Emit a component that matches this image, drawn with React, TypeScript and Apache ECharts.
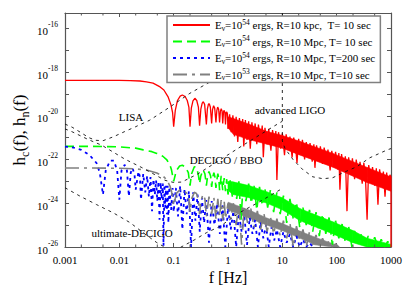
import React, { useEffect, useRef } from 'react';
import * as echarts from 'echarts';

const FONT = "'Liberation Serif', 'DejaVu Serif', serif";

// axis ranges, in log10 units (axes are drawn in log10 space)
const X_MIN = -3; // 0.001 Hz
const X_MAX = 3; // 1000 Hz
const Y_MIN = -26; // 1e-26
const Y_MAX = -15.3; // 5e-16
const xMinorTicks = [0.002, 0.005, 0.02, 0.05, 0.2, 0.5, 2, 5, 20, 50, 200, 500];

// legend entries
const seriesNames = [
  'Eν=10^54 ergs, R=10 kpc,  T= 10 sec',
  'Eν=10^54 ergs, R=10 Mpc, T= 10 sec',
  'Eν=10^54 ergs, R=10 Mpc, T=200 sec',
  'Eν=10^53 ergs, R=10 Mpc, T=10 sec',
];
const legendRich = [
  '{n|E}{sub|ν}{n|=10}{sup|54}{n| ergs, R=10 kpc,  T= 10 sec}',
  '{n|E}{sub|ν}{n|=10}{sup|54}{n| ergs, R=10 Mpc, T= 10 sec}',
  '{n|E}{sub|ν}{n|=10}{sup|54}{n| ergs, R=10 Mpc, T=200 sec}',
  '{n|E}{sub|ν}{n|=10}{sup|53}{n| ergs, R=10 Mpc, T=10 sec}',
];
const yAxisTitle = '{n|h}{sub|c}{n|(f), h}{sub|n}{n|(f)}';
const xAxisTitle = 'f [Hz]';

// signal curves: [log10 f, log10 h]
const redLog = [
  [-3, -18.38], [-2.5, -18.38], [-2, -18.38], [-1.8, -18.39], [-1.62, -18.41], [-1.5, -18.45], [-1.38, -18.51],
  [-1.25, -18.68], [-1.18, -18.82], [-1.1, -19.15], [-1.05, -19.5], [-1.02, -19.85], [-1.0, -20.5],
  [-0.97, -19.75], [-0.93, -19.3], [-0.88, -19.1], [-0.84, -19.05], [-0.79, -19.12], [-0.75, -19.3], [-0.72, -19.6], [-0.699, -20.5],
  [-0.675, -19.65], [-0.645, -19.32], [-0.61, -19.2], [-0.575, -19.3], [-0.545, -19.6], [-0.523, -20.45],
  [-0.5, -19.7], [-0.475, -19.42], [-0.455, -19.36], [-0.43, -19.48], [-0.398, -20.4],
  [-0.38, -19.7], [-0.36, -19.47], [-0.345, -19.45], [-0.325, -19.6], [-0.301, -20.35],
  [-0.285, -19.72], [-0.265, -19.54], [-0.245, -19.65], [-0.222, -20.3],
  [-0.205, -19.75], [-0.19, -19.6], [-0.172, -19.7], [-0.155, -20.3],
  [-0.14, -19.8], [-0.125, -19.68], [-0.11, -19.78], [-0.097, -20.35],
  [-0.083, -19.82], [-0.07, -19.75], [-0.058, -19.85], [-0.046, -20.4],
  [-0.034, -19.85], [-0.022, -19.82], [-0.011, -19.9], [0, -20.6],
  [0.03, -19.93], [0.06, -20.75], [0.09, -19.98], [0.12, -20.95], [0.15, -20.05], [0.18, -21.2], [0.21, -20.1], [0.24, -20.9],
  [0.27, -20.15], [0.29, -21.4], [0.32, -20.2], [0.35, -21.1], [0.38, -20.25], [0.41, -21.5], [0.44, -20.3], [0.47, -21.0],
  [0.5, -20.35], [0.53, -21.3], [0.56, -20.4], [0.6, -21.15], [0.63, -20.45], [0.65, -21.9], [0.68, -20.55], [0.72, -21.3],
  [0.75, -20.6], [0.79, -21.6], [0.82, -20.65], [0.86, -21.35], [0.88, -20.7], [0.9, -22.93], [0.93, -20.75], [0.97, -21.5],
  [1.0, -20.8], [1.04, -21.8], [1.07, -20.85], [1.11, -21.55], [1.14, -20.95], [1.18, -21.9], [1.21, -21.0], [1.25, -21.6],
  [1.27, -22.16], [1.3, -21.05], [1.34, -21.75], [1.37, -21.1], [1.41, -22.0], [1.44, -21.2], [1.48, -21.8], [1.51, -21.25],
  [1.55, -22.1], [1.58, -21.3], [1.6, -22.38], [1.63, -21.35], [1.67, -22.0], [1.7, -21.4], [1.74, -22.2], [1.77, -21.45],
  [1.81, -22.05], [1.84, -21.55], [1.88, -22.5], [1.91, -21.6], [1.95, -22.2], [1.98, -21.65], [2.02, -22.45], [2.04, -21.7],
  [2.06, -23.38], [2.09, -21.75], [2.13, -22.5], [2.16, -21.85], [2.19, -24.36], [2.22, -21.9], [2.26, -22.6], [2.29, -21.95],
  [2.33, -22.9], [2.36, -22.0], [2.4, -22.7], [2.43, -22.1], [2.47, -23.1], [2.5, -22.15], [2.53, -22.8], [2.56, -24.75],
  [2.59, -22.25], [2.63, -23.0], [2.66, -22.35], [2.7, -23.2], [2.73, -22.4], [2.76, -24.07], [2.79, -22.45], [2.83, -23.1],
  [2.86, -22.55], [2.89, -23.7], [2.92, -22.6], [2.95, -23.3], [2.98, -22.7], [3.0, -22.8], [3.0, -26],
];
// dense part of the red curve: [log10 f, upper log10 h, lower log10 h]
const redBandLog = [
  [0, -20.05, -20.55], [0.1, -20.12, -20.85], [0.4, -20.4, -21.1], [0.72, -20.72, -21.3], [1.0, -20.9, -21.48],
  [1.33, -21.18, -21.8], [1.93, -21.72, -22.35], [2.56, -22.36, -23.05], [3.0, -22.8, -23.45],
];

const greenLog = [
  [-3, -21.4], [-2.5, -21.4], [-2, -21.42], [-1.7, -21.48], [-1.56, -21.56], [-1.4, -21.64], [-1.31, -21.72], [-1.2, -21.85],
  [-1.13, -22.0], [-1.07, -22.25], [-1.04, -22.47], [-1.0, -23.0],
  [-0.95, -22.5], [-0.89, -22.3], [-0.84, -22.26], [-0.78, -22.35], [-0.73, -22.6], [-0.699, -23.2],
  [-0.67, -22.65], [-0.62, -22.33], [-0.58, -22.36], [-0.545, -22.7], [-0.523, -23.1],
  [-0.5, -22.75], [-0.46, -22.47], [-0.425, -22.65], [-0.398, -23.2],
  [-0.375, -22.75], [-0.35, -22.55], [-0.32, -22.75], [-0.301, -23.25],
  [-0.28, -22.8], [-0.26, -22.6], [-0.24, -22.8], [-0.222, -23.3],
  [-0.2, -22.85], [-0.187, -22.65], [-0.17, -22.85], [-0.155, -23.4],
  [-0.125, -22.75], [-0.097, -23.4], [-0.07, -22.85], [-0.046, -23.45], [-0.023, -22.9], [0, -23.6],
  [0.04, -22.95], [0.08, -23.7], [0.12, -22.95], [0.16, -23.8], [0.2, -23.0], [0.24, -24.75], [0.28, -23.05], [0.33, -23.9],
  [0.38, -23.1], [0.43, -24.0], [0.48, -23.2], [0.53, -24.3], [0.58, -23.25], [0.63, -24.1], [0.68, -23.35], [0.73, -24.2],
  [0.78, -23.4], [0.84, -24.4], [0.9, -23.5], [0.96, -24.5], [1.02, -23.65], [1.08, -24.9], [1.14, -23.8], [1.2, -24.7],
  [1.26, -23.95], [1.32, -25.1], [1.38, -24.2], [1.44, -25.0], [1.5, -24.3], [1.56, -25.3], [1.62, -24.4], [1.68, -25.5],
  [1.74, -24.5], [1.8, -25.4], [1.86, -24.65], [1.92, -25.9], [1.98, -24.8], [2.04, -25.6], [2.1, -24.95], [2.16, -25.8],
  [2.22, -25.05], [2.28, -26], [2.34, -25.2], [2.4, -25.9], [2.46, -25.35], [2.52, -26], [2.58, -25.5], [2.64, -26],
  [2.7, -25.55], [2.76, -26], [2.82, -25.65], [2.88, -26], [2.94, -25.75], [3, -26],
];
const greenBandLog = [
  [0, -23.0, -23.4], [0.09, -23.02, -23.6], [0.4, -23.2, -23.75], [0.72, -23.48, -24.0], [1.0, -23.75, -24.3],
  [1.33, -24.25, -24.8], [1.93, -24.85, -25.4], [2.3, -25.25, -25.8], [2.56, -25.6, -26], [3.0, -25.88, -26],
];

const blueLog = [
  [-3, -21.41], [-2.85, -21.45], [-2.7, -21.56], [-2.55, -21.79], [-2.42, -22.16], [-2.36, -22.6], [-2.301, -23.6],
  [-2.25, -22.5], [-2.17, -22.05], [-2.1, -22.05], [-2.04, -22.5], [-2.0, -23.84],
  [-1.96, -22.5], [-1.9, -22.24], [-1.86, -22.5], [-1.824, -23.68],
  [-1.79, -22.6], [-1.757, -22.39], [-1.72, -22.7], [-1.699, -23.38],
  [-1.648, -22.55], [-1.62, -22.8], [-1.602, -23.84],
  [-1.56, -22.65], [-1.523, -23.5], [-1.488, -22.75], [-1.456, -23.7], [-1.426, -22.8], [-1.398, -24.36],
  [-1.372, -22.9], [-1.347, -23.6], [-1.323, -22.95], [-1.301, -23.9], [-1.28, -23.0], [-1.26, -24.75],
  [-1.24, -23.05], [-1.222, -23.8], [-1.2, -23.1], [-1.187, -25.95], [-1.17, -23.15], [-1.155, -24.2], [-1.14, -23.2],
  [-1.125, -24.5], [-1.11, -23.2], [-1.097, -24.9], [-1.08, -23.25], [-1.046, -24.3], [-1.02, -23.3], [-1.0, -24.4],
  [-0.96, -23.3], [-0.92, -24.6], [-0.88, -23.2], [-0.84, -25.2], [-0.8, -23.35], [-0.76, -24.5], [-0.72, -23.45], [-0.68, -26],
  [-0.64, -23.5], [-0.6, -24.8], [-0.56, -23.6], [-0.52, -25.3], [-0.48, -23.75], [-0.44, -24.9], [-0.4, -23.85], [-0.35, -25.8],
  [-0.3, -23.9], [-0.25, -25.0], [-0.2, -24.0], [-0.15, -25.4], [-0.1, -24.1], [-0.05, -26], [0, -24.2], [0.05, -25.2],
  [0.1, -24.35], [0.15, -26], [0.2, -24.45], [0.25, -25.3], [0.3, -24.55], [0.35, -25.9], [0.4, -24.65], [0.45, -25.4],
  [0.5, -24.75], [0.55, -26], [0.6, -24.85], [0.65, -25.6], [0.7, -25.0], [0.75, -26], [0.8, -25.1], [0.85, -25.7],
  [0.9, -25.2], [0.96, -26], [1.02, -25.3], [1.08, -25.8], [1.14, -25.4], [1.2, -26], [1.26, -25.5], [1.32, -26],
  [1.38, -25.65], [1.44, -26], [1.5, -25.8], [1.56, -26],
];

const grayLog = [
  [-3, -22.39], [-2.5, -22.39], [-2, -22.4], [-1.7, -22.43], [-1.5, -22.48], [-1.31, -22.62], [-1.2, -22.75], [-1.13, -22.92],
  [-1.07, -23.2], [-1.04, -23.45], [-1.0, -24.1],
  [-0.95, -23.55], [-0.89, -23.4], [-0.82, -23.4], [-0.76, -23.55], [-0.72, -23.8], [-0.699, -24.4], [-0.67, -23.8],
  [-0.62, -23.5], [-0.58, -23.55], [-0.545, -23.85], [-0.523, -24.5], [-0.5, -23.9], [-0.46, -23.6], [-0.425, -23.8],
  [-0.398, -24.6], [-0.35, -23.7], [-0.301, -24.5], [-0.26, -23.75], [-0.222, -24.7], [-0.187, -23.8], [-0.155, -24.6],
  [-0.125, -23.85], [-0.097, -24.8], [-0.07, -23.9], [-0.046, -24.7], [0, -24.0],
  [0.05, -24.7], [0.1, -24.0], [0.15, -25.0], [0.2, -24.05], [0.25, -25.9], [0.3, -24.15], [0.36, -24.9], [0.42, -24.25],
  [0.48, -25.1], [0.54, -24.35], [0.6, -25.2], [0.66, -24.45], [0.72, -25.3], [0.78, -24.6], [0.84, -25.4], [0.9, -24.7],
  [0.96, -25.5], [1.02, -24.8], [1.08, -25.6], [1.14, -24.9], [1.2, -26], [1.26, -25.05], [1.32, -25.7], [1.38, -25.2],
  [1.44, -26], [1.5, -25.3], [1.56, -25.9], [1.62, -25.45], [1.68, -26], [1.74, -25.6], [1.8, -26], [1.86, -25.7],
  [1.92, -26], [1.98, -25.85], [2.04, -26],
];
const grayBandLog = [
  [0, -23.95, -24.3], [0.4, -24.32, -24.7], [0.72, -24.68, -25.0], [1.0, -24.93, -25.25], [1.33, -25.28, -25.6],
  [1.6, -25.55, -25.9], [1.93, -25.85, -26], [2.05, -26, -26],
];

// detector sensitivity curves: [log10 f, log10 h]
const lisaLog = [
  [-3, -20.38], [-2.87, -20.52], [-2.7, -20.78], [-2.56, -21.0], [-2.44, -21.12], [-2.3, -21.14], [-2.1, -20.95],
  [-1.9, -20.72], [-1.7, -20.5], [-1.44, -20.2], [-1.07, -19.6], [-0.7, -18.97], [-0.33, -18.45], [0, -17.95],
];
const decigoLog = [
  [-3, -20.6], [-2.87, -20.73], [-2.56, -21.1], [-2.32, -21.35], [-2.1, -21.68], [-1.9, -21.98], [-1.6, -22.35],
  [-1.4, -22.62], [-1.16, -22.95], [-1.0, -23.05], [-0.85, -23.03], [-0.55, -22.65], [-0.2, -22.1], [0.28, -21.34],
  [0.6, -20.85], [0.93, -20.35], [1.0, -20.25],
];
const ultimateLog = [
  [-3, -23.29], [-2.72, -23.68], [-2.42, -24.06], [-2.11, -24.44], [-1.8, -24.89], [-1.56, -25.35], [-1.31, -25.8],
  [-1.1, -26.1], [-0.9, -26.05], [-0.6, -25.65], [-0.4, -25.35], [-0.15, -25.06], [0.22, -24.42], [0.59, -23.92],
  [0.96, -23.38], [1.0, -23.3],
];
const aligoLog = [
  [1, -15.3], [1, -21.15], [1.05, -21.5], [1.2, -22.01], [1.38, -22.47], [1.56, -22.79], [1.75, -22.88], [1.93, -22.83],
  [2.12, -22.6], [2.37, -22.33], [2.61, -21.92], [2.93, -21.56], [3, -21.5],
];

const annotations = [
  { text: 'LISA', x: 131, y: 117 },
  { text: 'advanced LIGO', x: 290, y: 110 },
  { text: 'DECIGO / BBO', x: 226, y: 160 },
  { text: 'ultimate-DECIGO', x: 132, y: 233 },
];

function bandSeries(name: string, rows: number[][], color: string) {
  return {
    type: 'custom',
    name,
    silent: true,
    clip: true,
    data: rows,
    encode: { x: 0, y: [1, 2] },
    renderItem: (params: any, api: any) => {
      const i = params.dataIndex;
      if (i >= rows.length - 1) return null;
      const a = rows[i];
      const b = rows[i + 1];
      const points = [
        api.coord([a[0], a[1]]),
        api.coord([b[0], b[1]]),
        api.coord([b[0], b[2]]),
        api.coord([a[0], a[2]]),
      ];
      return { type: 'polygon', shape: { points }, style: { fill: color, stroke: color, lineWidth: 0.6 } };
    },
  };
}

function signal(name: string, arr: number[][], color: string, width: number, type: any) {
  return {
    type: 'line',
    name,
    data: arr,
    symbol: 'none',
    showSymbol: false,
    silent: true,
    clip: true,
    color,
    lineStyle: { color, width, type },
    itemStyle: { color },
  };
}

function noise(name: string, arr: number[][]) {
  return {
    type: 'line',
    name,
    data: arr,
    symbol: 'none',
    showSymbol: false,
    silent: true,
    clip: true,
    z: 3,
    lineStyle: { color: '#111', width: 0.9, type: [3, 4] },
  };
}

const AXIS_COLOR = '#555';

function buildOption(): any {
  const isInt = (v: number) => Math.abs(v - Math.round(v)) < 1e-6;
  const yLabel = (v: number) => {
    if (!isInt(v)) return '';
    const e = Math.round(v);
    if (e % 2 !== 0) return '';
    return `{b|10}{s|${e}}`;
  };
  const xLabel = (v: number) => {
    if (!isInt(v)) return '';
    return String(Number(Math.pow(10, Math.round(v)).toPrecision(6)));
  };
  const axisCommon = {
    axisLine: { show: true, onZero: false, lineStyle: { color: AXIS_COLOR, width: 1.2 } },
    axisTick: { show: true, inside: true, length: 4, lineStyle: { color: AXIS_COLOR, width: 1 } },
    splitLine: { show: false },
  };
  return {
    animation: false,
    backgroundColor: '#fff',
    grid: { left: 65, right: 24, top: 13, bottom: 49, containLabel: false },
    xAxis: [
      {
        type: 'value', min: X_MIN, max: X_MAX, interval: 1, position: 'bottom',
        ...axisCommon,
        axisLabel: { formatter: xLabel, fontFamily: FONT, fontSize: 11, color: '#000', margin: 7 },
        name: xAxisTitle, nameLocation: 'middle', nameGap: 21,
        nameTextStyle: { fontFamily: FONT, fontSize: 16, color: '#000' },
      },
      {
        type: 'value', min: X_MIN, max: X_MAX, interval: 1, position: 'top',
        ...axisCommon,
        axisLabel: { show: false },
      },
    ],
    yAxis: [
      {
        type: 'value', min: Y_MIN, max: Y_MAX, interval: 1, position: 'left',
        ...axisCommon,
        axisLabel: {
          formatter: yLabel, margin: 7, color: '#000', showMaxLabel: false,
          rich: {
            b: { fontFamily: FONT, fontSize: 11, color: '#000', lineHeight: 16, verticalAlign: 'bottom' },
            s: { fontFamily: FONT, fontSize: 7.5, color: '#000', lineHeight: 9, verticalAlign: 'top' },
          },
        },
      },
      {
        type: 'value', min: Y_MIN, max: Y_MAX, interval: 1, position: 'right',
        ...axisCommon,
        axisLabel: { show: false },
      },
    ],
    legend: {
      data: seriesNames,
      orient: 'vertical',
      left: 167,
      top: 16,
      backgroundColor: '#fff',
      borderColor: '#808080',
      borderWidth: 1.5,
      borderRadius: 0,
      padding: [2, 5, 1, 5],
      itemGap: 2.5,
      itemWidth: 37,
      itemHeight: 12,
      selectedMode: false,
      itemStyle: { opacity: 0 },
      formatter: (name: string) => legendRich[seriesNames.indexOf(name)],
      textStyle: {
        fontFamily: FONT, fontSize: 11, color: '#000',
        rich: {
          n: { fontFamily: FONT, fontSize: 11, color: '#000', lineHeight: 14, verticalAlign: 'middle' },
          sub: { fontFamily: FONT, fontSize: 7.5, color: '#000', lineHeight: 8, verticalAlign: 'bottom' },
          sup: { fontFamily: FONT, fontSize: 7.5, color: '#000', lineHeight: 8, verticalAlign: 'top' },
        },
      },
    },
    graphic: [
      ...annotations.map((a) => ({
        type: 'text',
        x: a.x,
        y: a.y,
        z: 100,
        silent: true,
        style: { text: a.text, fontFamily: FONT, fontSize: 11, fill: '#000', align: 'center', verticalAlign: 'middle' },
      })),
      {
        type: 'text',
        x: 21,
        y: 130,
        rotation: Math.PI / 2,
        z: 100,
        silent: true,
        style: {
          text: yAxisTitle,
          align: 'center',
          verticalAlign: 'middle',
          fontFamily: FONT,
          fontSize: 17,
          fill: '#000',
          rich: {
            n: { fontFamily: FONT, fontSize: 17, fill: '#000', lineHeight: 20, verticalAlign: 'top' },
            sub: { fontFamily: FONT, fontSize: 12, fill: '#000', lineHeight: 12, verticalAlign: 'bottom' },
          },
        },
      },
    ],
    series: [
      bandSeries('red band', redBandLog, '#ff0000'),
      signal(seriesNames[0], redLog, '#ff0000', 1.3, 'solid'),
      bandSeries('green band', greenBandLog, '#00ff00'),
      signal(seriesNames[1], greenLog, '#00ff00', 1.6, [9, 5]),
      signal(seriesNames[2], blueLog, '#0000ff', 1.8, [3, 4]),
      bandSeries('gray band', grayBandLog, '#808080'),
      signal(seriesNames[3], grayLog, '#808080', 1.6, [14, 5, 3, 5]),
      noise('LISA', lisaLog),
      noise('DECIGO / BBO', decigoLog),
      noise('ultimate-DECIGO', ultimateLog),
      noise('advanced LIGO', aligoLog),
      {
        type: 'custom',
        name: 'minor ticks',
        silent: true,
        clip: false,
        z: 5,
        data: xMinorTicks.map((v) => [Math.log10(v), Y_MIN]),
        encode: { x: 0, y: 1 },
        renderItem: (params: any, api: any) => {
          const x = api.value(0);
          const b = api.coord([x, Y_MIN]);
          const t = api.coord([x, Y_MAX]);
          return {
            type: 'group',
            children: [
              { type: 'line', shape: { x1: b[0], y1: b[1], x2: b[0], y2: b[1] - 2.5 }, style: { stroke: AXIS_COLOR, lineWidth: 1 } },
              { type: 'line', shape: { x1: t[0], y1: t[1], x2: t[0], y2: t[1] + 2.5 }, style: { stroke: AXIS_COLOR, lineWidth: 1 } },
            ],
          };
        },
      },
    ],
  };
}

export default function App() {
  const ref = useRef<HTMLDivElement>(null);
  useEffect(() => {
    if (!ref.current) return;
    const chart = echarts.init(ref.current, undefined, { renderer: 'svg' });
    chart.setOption(buildOption());
    return () => chart.dispose();
  }, []);
  return (
    <div
      ref={ref}
      style={{ position: 'fixed', left: 0, top: 0, width: 415, height: 296, background: '#fff' }}
    />
  );
}
